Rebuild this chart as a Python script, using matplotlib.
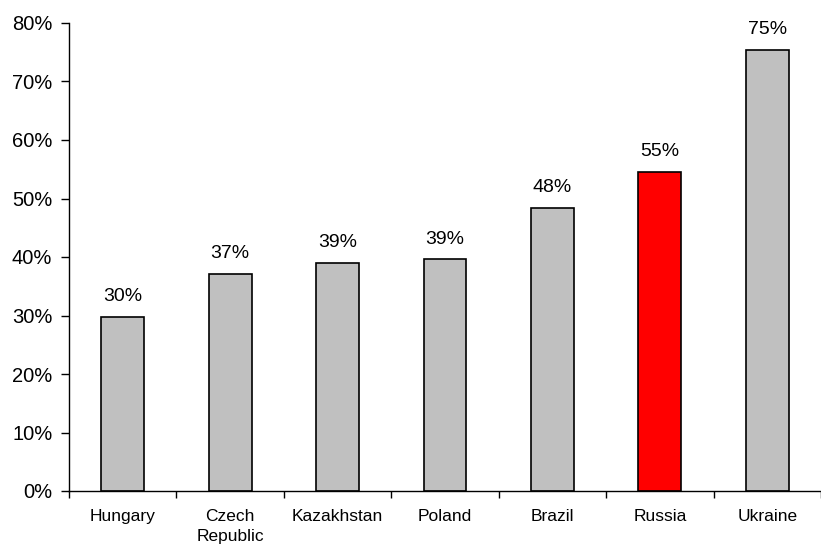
"""Bar chart of shares by country, with the Russia bar highlighted"""
import matplotlib.pyplot as plt
import numpy as np

plt.rcParams["font.family"] = ["Liberation Sans", "DejaVu Sans"]

# Data
countries = ["Hungary", "Czech\nRepublic", "Kazakhstan", "Poland", "Brazil", "Russia", "Ukraine"]
shares = [29.7, 37.1, 39.0, 39.6, 48.4, 54.6, 75.4]
labels = ["30%", "37%", "39%", "39%", "48%", "55%", "75%"]
highlight = "Russia"

colors = ["#ff0000" if c.startswith(highlight) else "#c0c0c0" for c in countries]

fig = plt.figure(figsize=(8.21, 5.48), dpi=100)
ax = fig.add_axes([69 / 821, 57 / 548, 752 / 821, 468 / 548])

x = np.arange(len(countries))
bars = ax.bar(x, shares, width=0.4, color=colors, edgecolor="black", linewidth=1.2, zorder=2)

# Value labels above each bar
for rect, text in zip(bars, labels):
    ax.annotate(text, (rect.get_x() + rect.get_width() / 2, rect.get_height()),
                xytext=(0, 8.5), textcoords="offset points",
                ha="center", va="bottom", fontsize=14)

# Axes limits and ticks
ax.set_xlim(-0.5, len(countries) - 0.5)
ax.set_ylim(0, 80)
ax.set_yticks(np.arange(0, 81, 10))
ax.set_yticklabels([f"{v}%" for v in range(0, 81, 10)], fontsize=14.5)
ax.tick_params(axis="y", direction="out", length=6, width=1, pad=6)

ax.set_xticks(x)
ax.set_xticklabels(countries, fontsize=12.5, linespacing=1.45)
ax.tick_params(axis="x", which="major", length=0, pad=13)
ax.set_xticks(np.arange(-0.5, len(countries), 1), minor=True)
ax.tick_params(axis="x", which="minor", direction="out", length=5, width=1)

for side in ["top", "right"]:
    ax.spines[side].set_visible(False)
for side in ["left", "bottom"]:
    ax.spines[side].set_linewidth(1)

fig.savefig("out.png", dpi=100)
